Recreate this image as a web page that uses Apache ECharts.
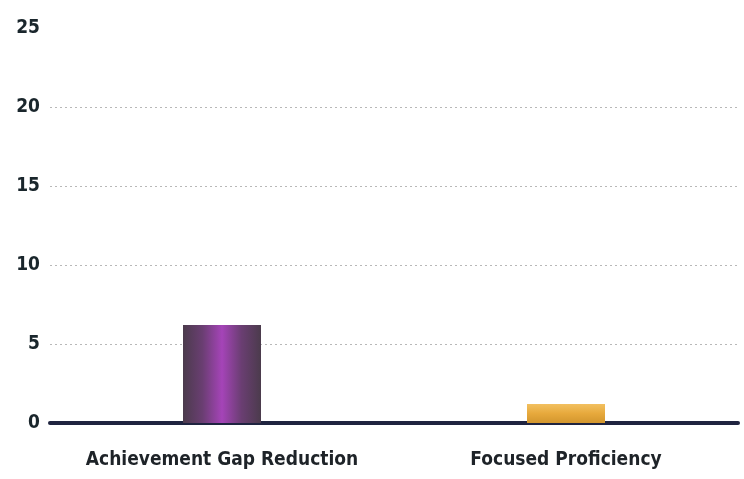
<!DOCTYPE html>
<html>
<head>
<meta charset="utf-8">
<script src="https://cdn.jsdelivr.net/npm/echarts@6/dist/echarts.min.js"></script>
<style>
  html, body { margin: 0; padding: 0; background: #fff; }
  #chart { width: 744px; height: 479px; }
</style>
</head>
<body>
<div id="chart"></div>
<script>
// Categories and values
const categories = ['Achievement Gap Reduction', 'Focused Proficiency'];
const values = [6.2, 1.2];
const yTicks = [0, 5, 10, 15, 20, 25];

const labelFont = '"DejaVu Sans Condensed", "Liberation Sans Narrow", "Arial Narrow", sans-serif';

const purpleFill = new echarts.graphic.LinearGradient(0, 0, 1, 0, [
  { offset: 0, color: '#4b3b4c' },
  { offset: 0.25, color: '#6a3e72' },
  { offset: 0.5, color: '#a544b8' },
  { offset: 0.75, color: '#6a3e72' },
  { offset: 1, color: '#4b3b4c' }
]);
const goldFill = new echarts.graphic.LinearGradient(0, 0, 0, 1, [
  { offset: 0, color: '#f2c060' },
  { offset: 0.5, color: '#e7a93c' },
  { offset: 1, color: '#d2962e' }
]);
const fills = [purpleFill, goldFill];

const chart = echarts.init(document.getElementById('chart'));
chart.setOption({
  animation: false,
  grid: { left: 50, right: 6, top: 28, bottom: 56 },
  xAxis: {
    type: 'category',
    data: categories,
    axisTick: { show: false },
    axisLine: { show: true, lineStyle: { color: '#1f2440', width: 4 } },
    axisLabel: {
      interval: 0,
      color: '#1e2328',
      fontFamily: labelFont,
      fontWeight: 'bold',
      fontSize: 19,
      margin: 28
    }
  },
  yAxis: {
    type: 'value',
    min: yTicks[0],
    max: yTicks[yTicks.length - 1],
    interval: 5,
    axisLine: { show: false },
    axisTick: { show: false },
    axisLabel: {
      color: '#1a262c',
      fontFamily: labelFont,
      fontWeight: 'bold',
      fontSize: 19,
      margin: 10
    },
    splitLine: {
      show: true,
      showMinLine: false,
      showMaxLine: false,
      lineStyle: { color: '#b8b8b8', type: [2, 3], width: 1 }
    }
  },
  series: [{
    type: 'bar',
    barWidth: 78,
    data: values.map((v, i) => ({ value: v, itemStyle: { color: fills[i] } }))
  }]
});
</script>
</body>
</html>
